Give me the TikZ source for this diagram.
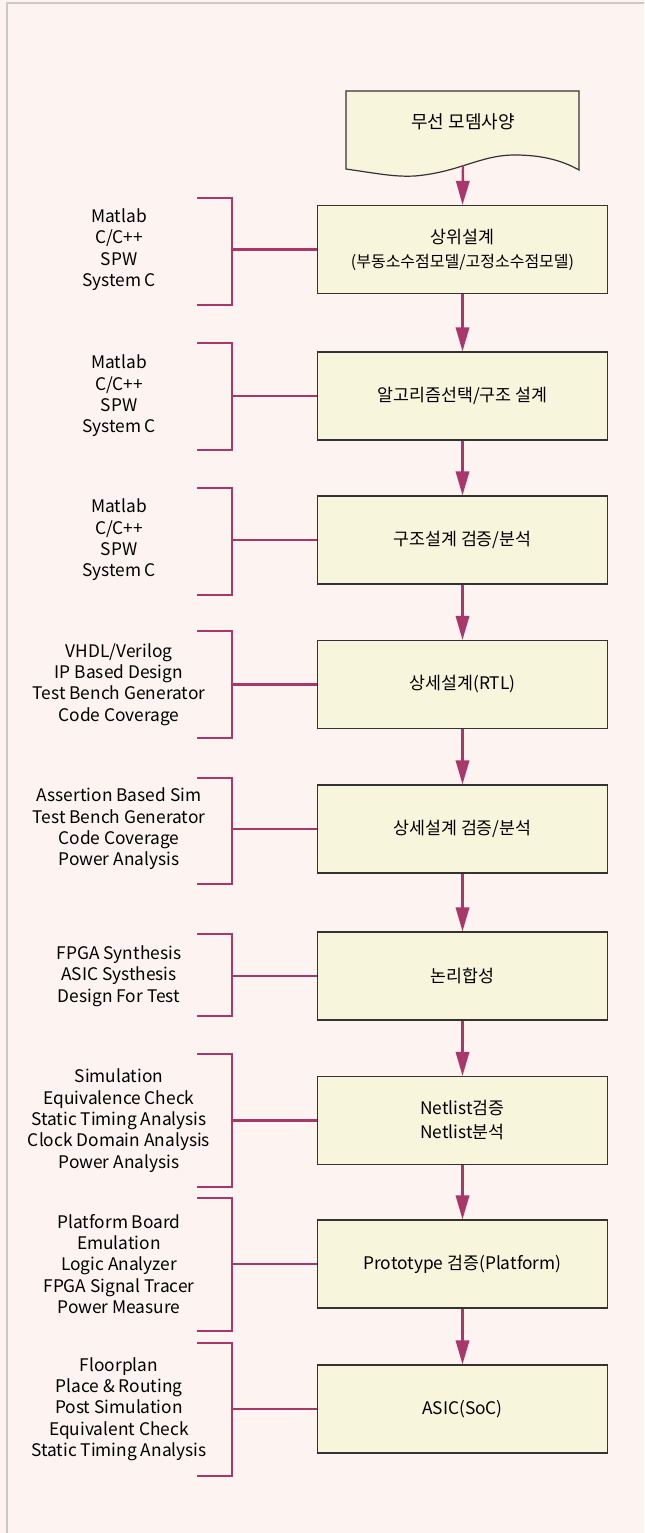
\documentclass[tikz,border=0pt]{standalone}
\usepackage{fontspec}
\setmainfont{Noto Sans CJK KR}
\usetikzlibrary{arrows.meta}
\definecolor{pagebg}{RGB}{253,244,242}
\definecolor{boxfill}{RGB}{247,245,220}
\definecolor{flowred}{RGB}{170,55,105}
\definecolor{framegray}{RGB}{205,200,196}
\begin{document}
\begin{tikzpicture}[x=0.75pt,y=-0.75pt,
    stage/.style={draw=black!80,line width=0.9pt,fill=boxfill,minimum width=218pt,minimum height=66pt,align=center,font=\fontsize{13}{18}\selectfont},
    tools/.style={align=center,inner sep=0pt,font=\fontsize{13}{16}\selectfont},
    flow/.style={flowred,line width=1.8pt,-{Triangle[length=18pt,width=10pt]}},
    link/.style={flowred,line width=1.7pt}]
        % --- Page and frame ---
        \fill[pagebg] (0,0) rectangle (644,1533);
        \useasboundingbox (0,0) rectangle (644,1533);
        \draw[framegray,line width=1.2pt] (6.7,1533) -- (6.7,3.3) -- (644,3.3);
        % ---

        % --- Draw spec document ---
        \draw[draw=black!80,line width=0.9pt,fill=boxfill] (346,91) -- (579,91) -- (579,170) .. controls (565,162) and (545,155) .. (515,155) .. controls (480,155) and (460,172) .. (415,176) .. controls (395,177) and (380,174) .. (346,169) -- cycle;
        \node[tools,font=\fontsize{13.5}{18}\selectfont] (spec) at (463,122) {무선 모뎀사양};
        \coordinate (specout) at (463,165);
        % ---

        % --- Draw design stages ---
        \node[stage] (box1) at (462.5,249.5) {상위설계\\{\fontsize{12}{18}\selectfont(부동소수점모델/고정소수점모델)}};
        \node[stage] (box2) at (462.5,396) {알고리즘선택/구조 설계};
        \node[stage] (box3) at (462.5,540) {구조설계 검증/분석};
        \node[stage] (box4) at (462.5,684.5) {상세설계(RTL)};
        \node[stage] (box5) at (462.5,829) {상세설계 검증/분석};
        \node[stage] (box6) at (462.5,976) {논리합성};
        \node[stage] (box7) at (462.5,1120.5) {Netlist검증\\Netlist분석};
        \node[stage] (box8) at (462.5,1264) {Prototype 검증(Platform)};
        \node[stage] (box9) at (462.5,1409) {ASIC(SoC)};
        \draw[flow] (specout) -- (box1.north);
        \draw[flow] (box1) -- (box2);
        \draw[flow] (box2) -- (box3);
        \draw[flow] (box3) -- (box4);
        \draw[flow] (box4) -- (box5);
        \draw[flow] (box5) -- (box6);
        \draw[flow] (box6) -- (box7);
        \draw[flow] (box7) -- (box8);
        \draw[flow] (box8) -- (box9);
        % ---

        % --- Draw tool lists and brackets ---
        \coordinate (spine) at (232,0);
        \node[tools] (tools1) at (119,249.5) {Matlab\\C/C++\\SPW\\System C};
        \node[tools] (tools2) at (119,396) {Matlab\\C/C++\\SPW\\System C};
        \node[tools] (tools3) at (119,540) {Matlab\\C/C++\\SPW\\System C};
        \node[tools] (tools4) at (119,684.5) {VHDL/Verilog\\IP Based Design\\Test Bench Generator\\Code Coverage};
        \node[tools] (tools5) at (119,829) {Assertion Based Sim\\Test Bench Generator\\Code Coverage\\Power Analysis};
        \node[tools] (tools6) at (119,976) {FPGA Synthesis\\ASIC Systhesis\\Design For Test};
        \node[tools] (tools7) at (119,1120.5) {Simulation\\Equivalence Check\\Static Timing Analysis\\Clock Domain Analysis\\Power Analysis};
        \node[tools] (tools8) at (119,1264) {Platform Board\\Emulation\\Logic Analyzer\\FPGA Signal Tracer\\Power Measure};
        \node[tools] (tools9) at (119,1409) {Floorplan\\Place \& Routing\\Post Simulation\\Equivalent Check\\Static Timing Analysis};
        \draw[link] (197,198) -| (232,305) -- (197,305);
        \draw[link] (197,343) -| (232,450) -- (197,450);
        \draw[link] (197,488) -| (232,595) -- (197,595);
        \draw[link] (197,631) -| (232,738) -- (197,738);
        \draw[link] (197,778) -| (232,884) -- (197,884);
        \draw[link] (197,934) -| (232,1016) -- (197,1016);
        \draw[link] (197,1054) -| (232,1187) -- (197,1187);
        \draw[link] (197,1198) -| (232,1331) -- (197,1331);
        \draw[link] (197,1343) -| (232,1476) -- (197,1476);
        \draw[link] (box1.west) -- (box1.west -| spine);
        \draw[link] (box2.west) -- (box2.west -| spine);
        \draw[link] (box3.west) -- (box3.west -| spine);
        \draw[link] (box4.west) -- (box4.west -| spine);
        \draw[link] (box5.west) -- (box5.west -| spine);
        \draw[link] (box6.west) -- (box6.west -| spine);
        \draw[link] (box7.west) -- (box7.west -| spine);
        \draw[link] (box8.west) -- (box8.west -| spine);
        \draw[link] (box9.west) -- (box9.west -| spine);
        % ---
\end{tikzpicture}
\end{document}
